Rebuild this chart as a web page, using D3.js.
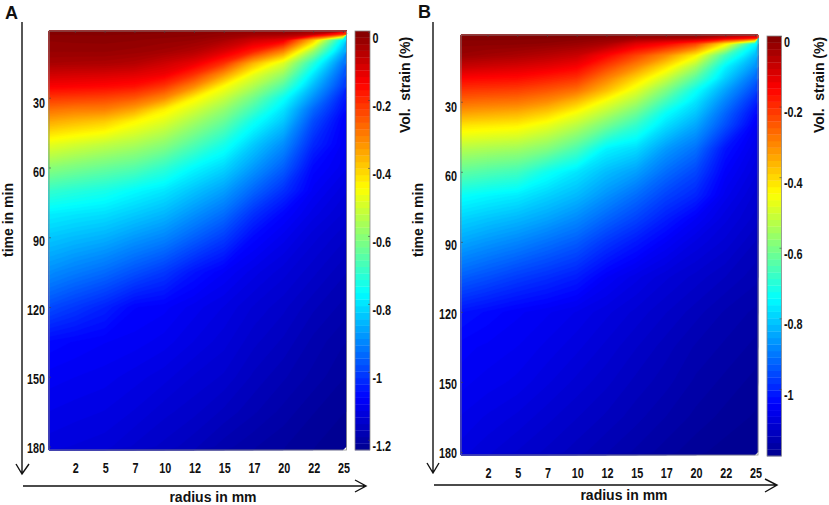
<!DOCTYPE html>
<html>
<head>
<meta charset="utf-8">
<script src="https://cdn.jsdelivr.net/npm/d3@7"></script>
<style>
html, body { margin: 0; background: #fff; }
svg { display: block; }
text { fill: #111; font-family: "Liberation Sans", Arial, sans-serif; }
.tick-label { font-weight: bold; font-size: 15px; }
.axis-title { font-weight: bold; font-size: 14px; }
.panel-letter { font-weight: bold; font-size: 18px; }
</style>
</head>
<body>
<svg id="chart" width="829" height="505"></svg>
<script>
const radii = [0, 2.5, 5, 7.5, 10, 12.5, 15, 17.5, 20, 22.5, 25]
const times = [0, 2.5, 5, 10, 15, 20, 25, 30, 35, 40, 50, 60, 70, 80, 90, 105, 120, 135, 150, 165, 180]
const radiusTicks = [2.5, 5, 7.5, 10, 12.5, 15, 17.5, 20, 22.5, 25]
const timeTicks = [30, 60, 90, 120, 150, 180]
const strainTicksA = [0, -0.2, -0.4, -0.6, -0.8, -1, -1.2]
const strainTicksB = [0, -0.2, -0.4, -0.6, -0.8, -1]

// volumetric strain in %, one row per time, one column per radius
const strainA = [
  [0, 0, 0, 0, 0, -.002, -.005, -.008, -.01, -.02, -.03],
  [-.005, -.005, -.005, -.006, -.008, -.012, -.02, -.03, -.034, -.06, -.2],
  [-.015, -.013, -.012, -.015, -.02, -.025, -.045, -.09, -.12, -.38, -.78],
  [-.025, -.025, -.025, -.03, -.04, -.06, -.11, -.19, -.315, -.58, -.86],
  [-.045, -.048, -.05, -.06, -.09, -.125, -.206, -.37, -.498, -.72, -.93],
  [-.095, -.1, -.105, -.115, -.135, -.21, -.335, -.487, -.586, -.795, -.97],
  [-.145, -.15, -.157, -.17, -.216, -.315, -.459, -.555, -.67, -.85, -1],
  [-.216, -.223, -.231, -.255, -.315, -.445, -.526, -.63, -.754, -.9, -1.04],
  [-.286, -.3, -.305, -.35, -.44, -.51, -.587, -.69, -.8, -.95, -1.06],
  [-.354, -.374, -.394, -.45, -.495, -.567, -.64, -.75, -.833, -.985, -1.08],
  [-.488, -.51, -.534, -.56, -.6, -.67, -.74, -.83, -.904, -1.03, -1.09],
  [-.599, -.62, -.642, -.665, -.71, -.772, -.816, -.89, -.962, -1.07, -1.1],
  [-.706, -.723, -.74, -.77, -.796, -.84, -.883, -.955, -1.02, -1.09, -1.12],
  [-.786, -.796, -.806, -.83, -.855, -.9, -.945, -1.02, -1.074, -1.11, -1.135],
  [-.834, -.848, -.862, -.89, -.915, -.96, -1.004, -1.07, -1.1, -1.13, -1.15],
  [-.905, -.926, -.948, -.98, -1.01, -1.055, -1.085, -1.11, -1.13, -1.15, -1.17],
  [-.986, -1.01, -1.037, -1.075, -1.082, -1.1, -1.115, -1.135, -1.15, -1.17, -1.185],
  [-1.069, -1.077, -1.085, -1.09, -1.1, -1.115, -1.13, -1.15, -1.165, -1.185, -1.2],
  [-1.09, -1.095, -1.1, -1.11, -1.12, -1.135, -1.145, -1.165, -1.18, -1.195, -1.21],
  [-1.105, -1.11, -1.115, -1.125, -1.14, -1.15, -1.165, -1.18, -1.195, -1.21, -1.22],
  [-1.12, -1.125, -1.13, -1.145, -1.156, -1.17, -1.187, -1.2, -1.21, -1.22, -1.225]
]
const strainB = [
  [0, 0, 0, -.001, -.001, -.002, -.005, -.006, -.008, -.015, -.03],
  [-.005, -.005, -.006, -.008, -.01, -.02, -.035, -.04, -.05, -.1, -.15],
  [-.015, -.015, -.016, -.02, -.03, -.05, -.11, -.15, -.22, -.42, -.74],
  [-.03, -.04, -.05, -.065, -.085, -.149, -.225, -.31, -.43, -.66, -.82],
  [-.086, -.095, -.105, -.12, -.143, -.225, -.31, -.417, -.55, -.755, -.87],
  [-.152, -.157, -.162, -.183, -.208, -.3, -.4, -.51, -.644, -.8, -.92],
  [-.211, -.217, -.224, -.246, -.28, -.37, -.476, -.595, -.73, -.85, -.96],
  [-.272, -.28, -.287, -.315, -.372, -.465, -.547, -.67, -.775, -.89, -1],
  [-.34, -.35, -.36, -.395, -.46, -.536, -.62, -.74, -.81, -.925, -1.03],
  [-.414, -.423, -.432, -.47, -.526, -.607, -.685, -.78, -.845, -.95, -1.05],
  [-.532, -.543, -.555, -.59, -.655, -.755, -.785, -.86, -.91, -1.02, -1.07],
  [-.634, -.651, -.668, -.727, -.772, -.82, -.854, -.915, -.96, -1.045, -1.085],
  [-.735, -.75, -.764, -.795, -.824, -.87, -.915, -.965, -1, -1.065, -1.1],
  [-.794, -.81, -.827, -.85, -.88, -.925, -.965, -1.01, -1.05, -1.085, -1.11],
  [-.847, -.866, -.885, -.91, -.935, -.98, -1.015, -1.05, -1.08, -1.1, -1.125],
  [-.931, -.95, -.972, -.99, -1.01, -1.05, -1.075, -1.095, -1.11, -1.125, -1.14],
  [-1.02, -1.034, -1.048, -1.058, -1.07, -1.085, -1.1, -1.115, -1.13, -1.145, -1.155],
  [-1.046, -1.053, -1.06, -1.072, -1.085, -1.1, -1.115, -1.13, -1.145, -1.155, -1.165],
  [-1.056, -1.064, -1.072, -1.086, -1.1, -1.113, -1.128, -1.14, -1.155, -1.165, -1.175],
  [-1.07, -1.08, -1.09, -1.103, -1.115, -1.127, -1.14, -1.153, -1.165, -1.175, -1.182],
  [-1.083, -1.095, -1.107, -1.118, -1.13, -1.143, -1.155, -1.167, -1.178, -1.185, -1.188]
]

const jetStops = [0, 0.125, 0.375, 0.625, 0.875, 1]
const jetColors = ['#00008f', '#0000ff', '#00ffff', '#ffff00', '#ff0000', '#800000']
const jet = d3.scaleLinear().domain(jetStops).range(jetColors).clamp(true)

const svg = d3.select('#chart')

// the figure's tick labels are squeezed sideways, keep that look
function squeeze(sel) {
  sel.attr('transform', function () {
    const t = d3.select(this)
    const tx = (+t.attr('x') || 0)
    const ty = (+t.attr('y') || 0)
    return `translate(${tx},${ty}) scale(0.72,1)`
  }).attr('x', null).attr('y', null)
}

function drawPanel(p) {
  const g = svg.append('g')
  const x = d3.scaleLinear().domain(p.radiusDomain).range(p.plotX).clamp(true)
  const y = d3.scaleLinear().domain(p.timeDomain).range(p.plotY).clamp(true)
  const color = d3.scaleLinear().domain(p.strainDomain).range([0, 1])
  const barY = d3.scaleLinear().domain(p.strainDomain).range(p.barY)

  // d3.contours puts grid value i at i + 0.5, map that back onto radius and time
  const nx = radii.length
  const ny = times.length
  const colU = d3.scaleLinear()
    .domain([0, ...radii.map((d, i) => i + 0.5), nx])
    .range([radii[0], ...radii, p.radiusDomain[1]])
  const rowU = d3.scaleLinear()
    .domain([0, ...times.map((d, i) => i + 0.5), ny])
    .range([times[0], ...times, p.timeDomain[1]])
  const path = d3.geoPath(d3.geoTransform({
    point(u, v) { this.stream.point(x(colU(u)), y(rowU(v))) }
  }))

  const levels = 128
  const step = (p.strainDomain[1] - p.strainDomain[0]) / levels
  const thresholds = d3.range(levels).map(i => p.strainDomain[0] + i * step)
  const contours = d3.contours().size([nx, ny]).thresholds(thresholds)(p.values.flat())

  g.append('g').selectAll('path')
    .data(contours)
    .join('path')
    .attr('d', path)
    .attr('fill', d => jet(color(d.value + step / 2)))
    .attr('stroke', d => jet(color(d.value + step / 2)))
    .attr('stroke-width', 0.4)

  g.append('rect')
    .attr('x', p.plotX[0]).attr('y', p.plotY[0])
    .attr('width', p.plotX[1] - p.plotX[0]).attr('height', p.plotY[1] - p.plotY[0])
    .attr('fill', 'none').attr('stroke', '#8a8a8a').attr('stroke-width', 0.8)

  // ticks sit inside the image, labels are drawn a little off the tick
  const xAxis = g.append('g').attr('transform', `translate(0,${p.plotY[0]})`)
    .call(d3.axisTop(x).tickValues(radiusTicks).tickSize(-2).tickFormat(d => Math.floor(d)))
  xAxis.select('.domain').remove()
  xAxis.selectAll('line').attr('stroke', '#444').attr('stroke-width', 0.6)
  xAxis.selectAll('text')
    .attr('class', 'tick-label').attr('x', p.radiusLabelDx).attr('y', p.radiusLabelY - p.plotY[0]).attr('dy', '0.35em')
    .call(squeeze)

  const yAxis = g.append('g').attr('transform', `translate(${p.plotX[0]},0)`)
    .call(d3.axisLeft(y).tickValues(timeTicks).tickSize(-2))
  yAxis.select('.domain').remove()
  yAxis.selectAll('line').attr('stroke', '#444').attr('stroke-width', 0.6)
  yAxis.selectAll('text')
    .attr('class', 'tick-label').attr('x', -4).attr('dy', '0.35em')
    .attr('y', d => p.timeLabelY(d) - y(d))
    .call(squeeze)

  // colorbar, 64 flat bands like the matlab colormap
  const bands = d3.range(64)
  const bandH = (p.barY[0] - p.barY[1]) / 64
  g.append('g').selectAll('rect')
    .data(bands)
    .join('rect')
    .attr('x', p.barX[0])
    .attr('y', d => p.barY[0] - (d + 1) * bandH)
    .attr('width', p.barX[1] - p.barX[0])
    .attr('height', bandH + 0.3)
    .attr('fill', d => jet((d + 0.5) / 64))
  g.append('rect')
    .attr('x', p.barX[0]).attr('y', p.barY[1])
    .attr('width', p.barX[1] - p.barX[0]).attr('height', p.barY[0] - p.barY[1])
    .attr('fill', 'none').attr('stroke', '#8a8a8a').attr('stroke-width', 0.8)

  const barAxis = g.append('g').attr('transform', `translate(${p.barX[1]},0)`)
    .call(d3.axisRight(barY).tickValues(p.strainTicks).tickSize(-2).tickFormat(d => d))
  barAxis.select('.domain').remove()
  barAxis.selectAll('line').attr('stroke', '#444').attr('stroke-width', 0.6)
  barAxis.selectAll('text')
    .attr('class', 'tick-label').attr('x', 2.5).attr('dy', '0.35em').attr('y', 5)
    .call(squeeze)

  // hand drawn arrows next to the axes
  const arrows = g.append('g').attr('fill', 'none').attr('stroke', '#111').attr('stroke-width', 1.4)
  arrows.append('path').attr('d', p.timeArrow)
  arrows.append('path').attr('d', p.radiusArrow)

  g.append('text').attr('class', 'axis-title').attr('text-anchor', 'middle')
    .attr('x', p.radiusTitle[0]).attr('y', p.radiusTitle[1]).text('radius in mm')
  g.append('text').attr('class', 'axis-title').attr('text-anchor', 'middle')
    .attr('transform', `translate(${p.timeTitle[0]},${p.timeTitle[1]}) rotate(-90)`).text('time in min')
  g.append('text').attr('class', 'axis-title').attr('text-anchor', 'middle').attr('xml:space', 'preserve')
    .attr('transform', `translate(${p.barTitle[0]},${p.barTitle[1]}) rotate(-90)`).text('Vol.  strain (%)')
  g.append('text').attr('class', 'panel-letter')
    .attr('x', p.letter[1]).attr('y', p.letter[2]).text(p.letter[0])
}

drawPanel({
  values: strainA,
  strainTicks: strainTicksA,
  plotX: [49, 346.5], plotY: [31, 450],
  barX: [355, 370], barY: [450, 31],
  radiusDomain: [0.33, 25.3], timeDomain: [1.3, 181.5], strainDomain: [-1.23, 0.003],
  radiusLabelY: 468, radiusLabelDx: 0.5,
  timeLabelY: d3.scaleLinear().domain([30, 180]).range([102, 447]),
  timeArrow: 'M22,22V473M16,464L22,474L29,464',
  radiusArrow: 'M23,486H365M355,480L366,486L355,492',
  radiusTitle: [213, 502], timeTitle: [13, 220], barTitle: [410, 85],
  letter: ['A', 5, 19]
})

drawPanel({
  values: strainB,
  strainTicks: strainTicksB,
  plotX: [461, 758], plotY: [35, 455],
  barX: [767, 781.5], barY: [456, 36],
  radiusDomain: [0.27, 25.25], timeDomain: [1.4, 181.3], strainDomain: [-1.19, 0],
  radiusLabelY: 473, radiusLabelDx: 0.5,
  timeLabelY: d3.scaleLinear().domain([30, 180]).range([106, 452]),
  timeArrow: 'M433,22V473M427,463L433,473L439,463',
  radiusArrow: 'M434,485H776M765,479L777,485L765,492',
  radiusTitle: [624, 500], timeTitle: [423, 220], barTitle: [824, 85],
  letter: ['B', 418, 18]
})
</script>
</body>
</html>
